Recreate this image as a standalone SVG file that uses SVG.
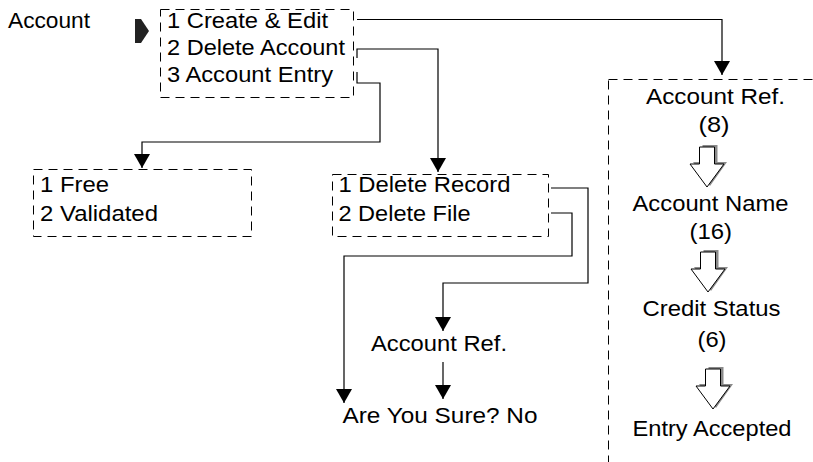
<svg xmlns="http://www.w3.org/2000/svg" width="813" height="462" viewBox="0 0 813 462">
<defs>
<style>
text{font-family:"Liberation Sans",Arial,sans-serif;font-size:21.5px;fill:#000}
.box{fill:none;stroke:#000;stroke-width:1;stroke-dasharray:9 6}
.conn{fill:none;stroke:#000;stroke-width:1.2;marker-end:url(#ah)}
.hol{fill:#fff;stroke:#000;stroke-width:1}
.sh{fill:#8a8a8a;stroke:none}
</style>
<marker id="ah" viewBox="0 0 14 16" refX="14" refY="8" markerWidth="14" markerHeight="16" markerUnits="userSpaceOnUse" orient="auto">
<path d="M0,0 L14,8 L0,16 Z" fill="#000"/>
</marker>
<g id="hollow">
<polygon class="sh" points="-4.5,-2 10.5,-2 10.5,15 20,15 3,39 -14,15 -4.5,15"/>
<polygon class="hol" points="-7.5,0 7.5,0 7.5,17 17,17 0,40 -17,17 -7.5,17"/>
</g>
</defs>
<rect width="813" height="462" fill="#fff"/>

<g id="title">
<text x="8" y="28" textLength="82" lengthAdjust="spacingAndGlyphs">Account</text>
<polygon points="135,19 141,19 149,31 141,43 135,43" fill="#222"/>
</g>

<g id="menu">
<rect class="box" x="160.5" y="9.5" width="193" height="88"/>
<text x="167" y="27.5" textLength="161" lengthAdjust="spacingAndGlyphs">1 Create &amp; Edit</text>
<text x="167" y="54.5" textLength="178" lengthAdjust="spacingAndGlyphs">2 Delete Account</text>
<text x="167" y="82" textLength="166" lengthAdjust="spacingAndGlyphs">3 Account Entry</text>
</g>

<g id="entrytype">
<rect class="box" x="33.5" y="169.5" width="218" height="67"/>
<text x="40" y="191.5" textLength="69" lengthAdjust="spacingAndGlyphs">1 Free</text>
<text x="40" y="221" textLength="118" lengthAdjust="spacingAndGlyphs">2 Validated</text>
</g>

<g id="delete">
<rect class="box" x="332.5" y="174.5" width="216" height="62"/>
<text x="338.5" y="192" textLength="172" lengthAdjust="spacingAndGlyphs">1 Delete Record</text>
<text x="338.5" y="221" textLength="132" lengthAdjust="spacingAndGlyphs">2 Delete File</text>
</g>

<g id="accref">
<text x="371" y="351" textLength="136" lengthAdjust="spacingAndGlyphs">Account Ref.</text>
</g>

<g id="sure">
<text x="342.5" y="423" textLength="195" lengthAdjust="spacingAndGlyphs">Are You Sure? No</text>
</g>

<g id="create">
<rect class="box" x="608.5" y="79.5" width="300" height="500"/>
<text x="646" y="104" textLength="139" lengthAdjust="spacingAndGlyphs">Account Ref.</text>
<text x="698.5" y="132" textLength="31" lengthAdjust="spacingAndGlyphs">(8)</text>
<use href="#hollow" x="707" y="147"/>
<text x="632.5" y="210.5" textLength="156" lengthAdjust="spacingAndGlyphs">Account Name</text>
<text x="689.5" y="238.5" textLength="42.5" lengthAdjust="spacingAndGlyphs">(16)</text>
<use href="#hollow" x="708" y="252"/>
<text x="642.5" y="315.5" textLength="138" lengthAdjust="spacingAndGlyphs">Credit Status</text>
<text x="697.5" y="347" textLength="29" lengthAdjust="spacingAndGlyphs">(6)</text>
<use href="#hollow" x="713" y="369"/>
<text x="632.5" y="435.5" textLength="159" lengthAdjust="spacingAndGlyphs">Entry Accepted</text>
</g>

<g id="connectors">
<path class="conn" d="M357,19.5 H722 V75"/>
<path class="conn" d="M357,58 V49 H438 V172"/>
<path class="conn" d="M357,72 V83 H380 V142 H142 V168"/>
<path class="conn" d="M551,188 H588 V283 H443 V331"/>
<path class="conn" d="M551,213 H572 V256 H344 V403"/>
<path class="conn" d="M443,362 V399"/>
</g>
</svg>
